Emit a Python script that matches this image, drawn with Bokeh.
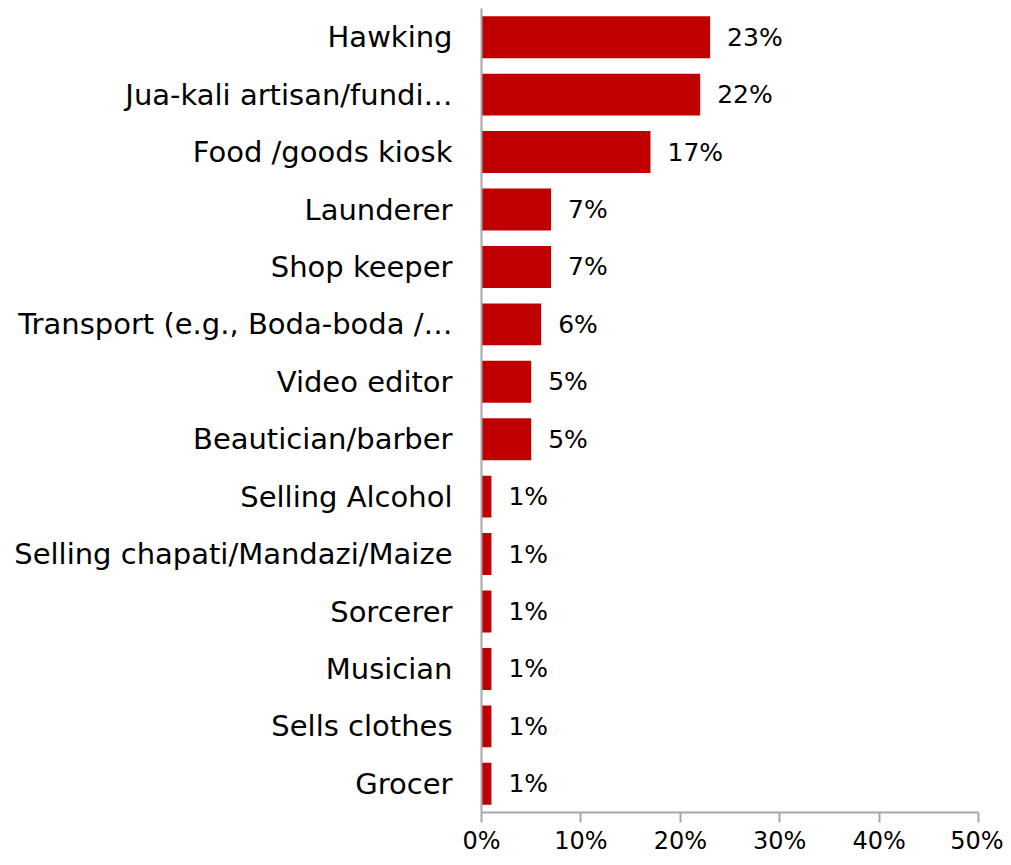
from bokeh.plotting import figure
from bokeh.models import ColumnDataSource, FactorRange, Range1d, FixedTicker, NumeralTickFormatter
from bokeh.core.properties import value
from bokeh.embed import file_html
from bokeh.resources import INLINE

categories = [
    "Hawking",
    "Jua-kali artisan/fundi\u2026",
    "Food /goods kiosk",
    "Launderer",
    "Shop keeper",
    "Transport (e.g., Boda-boda /\u2026",
    "Video editor",
    "Beautician/barber",
    "Selling Alcohol",
    "Selling chapati/Mandazi/Maize",
    "Sorcerer",
    "Musician",
    "Sells clothes",
    "Grocer",
]
percents = [23, 22, 17, 7, 7, 6, 5, 5, 1, 1, 1, 1, 1, 1]
tick_values = [0, 0.1, 0.2, 0.3, 0.4, 0.5]

FONT = "DejaVu Sans"
BAR = "#C00000"
AXIS = "#A6A6A6"

src = ColumnDataSource(dict(
    cat=categories,
    val=[v / 100 for v in percents],
    lbl=[f"{v}%" for v in percents],
))

p = figure(
    width=1003, height=857,
    y_range=FactorRange(*list(reversed(categories)), range_padding=0),
    x_range=Range1d(0, 0.5),
    output_backend="svg", toolbar_location=None,
    min_border_left=481, min_border_right=25, min_border_top=8, min_border_bottom=42,
)
p.hbar(y="cat", right="val", left=0, height=0.73, source=src, color=BAR, line_color=None)
p.text(x="val", y="cat", text="lbl", source=src, x_offset=17,
       text_align="left", text_baseline="middle",
       text_font=value(FONT), text_font_size="25px", text_color="#000000")

p.outline_line_color = None
p.grid.visible = False
p.background_fill_color = "white"

xa = p.xaxis[0]
xa.ticker = FixedTicker(ticks=tick_values)
xa.formatter = NumeralTickFormatter(format="0%")
xa.axis_line_color = AXIS
xa.axis_line_width = 2
xa.major_tick_line_color = AXIS
xa.major_tick_line_width = 2
xa.major_tick_in = 0
xa.major_tick_out = 10
xa.minor_tick_line_color = None
xa.major_label_text_font = FONT
xa.major_label_text_font_size = "24px"
xa.major_label_text_color = "#000000"
xa.major_label_standoff = 4

ya = p.yaxis[0]
ya.axis_line_color = AXIS
ya.axis_line_width = 2
ya.major_tick_line_color = None
ya.minor_tick_line_color = None
ya.major_label_text_font = FONT
ya.major_label_text_font_size = "29px"
ya.major_label_text_color = "#000000"
ya.major_label_standoff = 23

open("out.html", "w").write(file_html(p, INLINE))
